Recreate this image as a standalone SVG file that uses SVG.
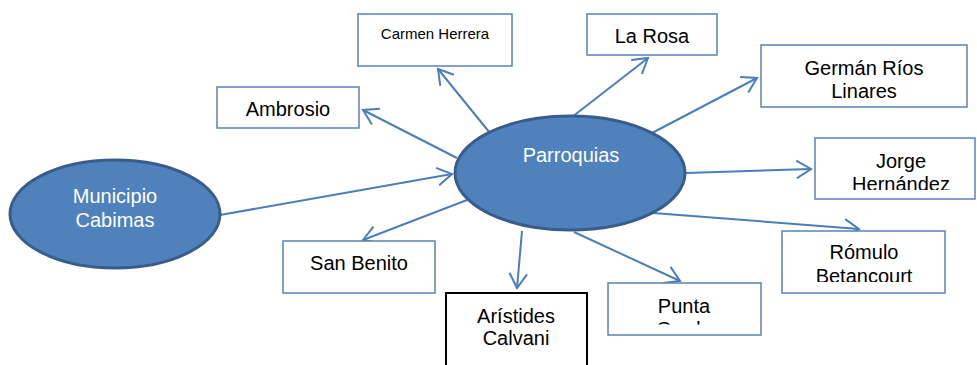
<svg xmlns="http://www.w3.org/2000/svg" width="977" height="365" viewBox="0 0 977 365">
<style>
.ell{fill:#4f81bd;stroke:#385d8a;stroke-width:3}
.box{fill:#fff;stroke:#5a82b8;stroke-width:1.5}
.boxk{fill:#fff;stroke:#000;stroke-width:2}
.t{font-family:"Liberation Sans",Arial,sans-serif;font-size:20px;fill:#000;text-anchor:middle}
.tw{font-family:"Liberation Sans",Arial,sans-serif;font-size:20px;fill:#fff;text-anchor:middle}
.ts{font-family:"Liberation Sans",Arial,sans-serif;font-size:15px;fill:#000;text-anchor:middle}
.c{stroke:#4a7ebb;stroke-width:2;fill:none;marker-end:url(#arr)}
</style>
<defs>
<marker id="arr" viewBox="-16 -10 18 20" refX="0" refY="0" markerWidth="18" markerHeight="20" markerUnits="userSpaceOnUse" orient="auto">
<path d="M-14.5,-8.8 L0,0 L-14.5,8.8" fill="none" stroke="#4a7ebb" stroke-width="2"/>
</marker>
<clipPath id="cj"><rect x="815" y="138" width="162" height="52"/></clipPath>
<clipPath id="cr"><rect x="782" y="231" width="163" height="51"/></clipPath>
<clipPath id="cp"><rect x="608" y="283" width="153" height="41.5"/></clipPath>
</defs>
<rect width="977" height="365" fill="#fff"/>
<g id="connectors">
<line class="c" x1="220" y1="215" x2="452" y2="174"/>
<line class="c" x1="457" y1="158" x2="363" y2="110"/>
<line class="c" x1="490" y1="133" x2="438" y2="69"/>
<line class="c" x1="572" y1="117" x2="648" y2="58"/>
<line class="c" x1="652" y1="133" x2="757" y2="78"/>
<line class="c" x1="686" y1="173" x2="811" y2="169"/>
<line class="c" x1="653" y1="213" x2="859" y2="229"/>
<line class="c" x1="574" y1="232" x2="680" y2="281"/>
<line class="c" x1="467" y1="200" x2="363" y2="240"/>
<line class="c" x1="522" y1="231" x2="517" y2="288"/>
</g>
<g id="municipio">
<ellipse class="ell" cx="115" cy="214" rx="105" ry="54"/>
<text class="tw" x="115" y="203">Municipio</text>
<text class="tw" x="115" y="227">Cabimas</text>
</g>
<g id="parroquias">
<ellipse class="ell" cx="570" cy="173" rx="115" ry="57"/>
<text class="tw" x="571" y="162">Parroquias</text>
</g>
<g id="carmen">
<rect class="box" x="358" y="14" width="154" height="52"/>
<text class="ts" x="435" y="39">Carmen Herrera</text>
</g>
<g id="larosa">
<rect class="box" x="587" y="14" width="130" height="41"/>
<text class="t" x="652" y="43">La Rosa</text>
</g>
<g id="german">
<rect class="box" x="761" y="45" width="206" height="62"/>
<text class="t" x="864" y="75">Germán Ríos</text>
<text class="t" x="864" y="98">Linares</text>
</g>
<g id="ambrosio">
<rect class="box" x="217" y="87" width="142" height="41"/>
<text class="t" x="288" y="116">Ambrosio</text>
</g>
<g id="jorge">
<rect class="box" x="815" y="138" width="160" height="61"/>
<g clip-path="url(#cj)">
<text class="t" x="901" y="168">Jorge</text>
<text class="t" x="901" y="191">Hernández</text>
</g>
</g>
<g id="romulo">
<rect class="box" x="782" y="231" width="163" height="62"/>
<g clip-path="url(#cr)">
<text class="t" x="864" y="259">Rómulo</text>
<text class="t" x="864" y="283">Betancourt</text>
</g>
</g>
<g id="sanbenito">
<rect class="box" x="283" y="241" width="152" height="52"/>
<text class="t" x="359" y="270">San Benito</text>
</g>
<g id="aristides">
<rect class="boxk" x="446" y="293" width="141" height="80"/>
<text class="t" x="516" y="323">Arístides</text>
<text class="t" x="516" y="345">Calvani</text>
</g>
<g id="punta">
<rect class="box" x="608" y="283" width="153" height="52"/>
<g clip-path="url(#cp)">
<text class="t" x="684" y="313">Punta</text>
<text class="t" x="684" y="336">Gorda</text>
</g>
</g>
</svg>
